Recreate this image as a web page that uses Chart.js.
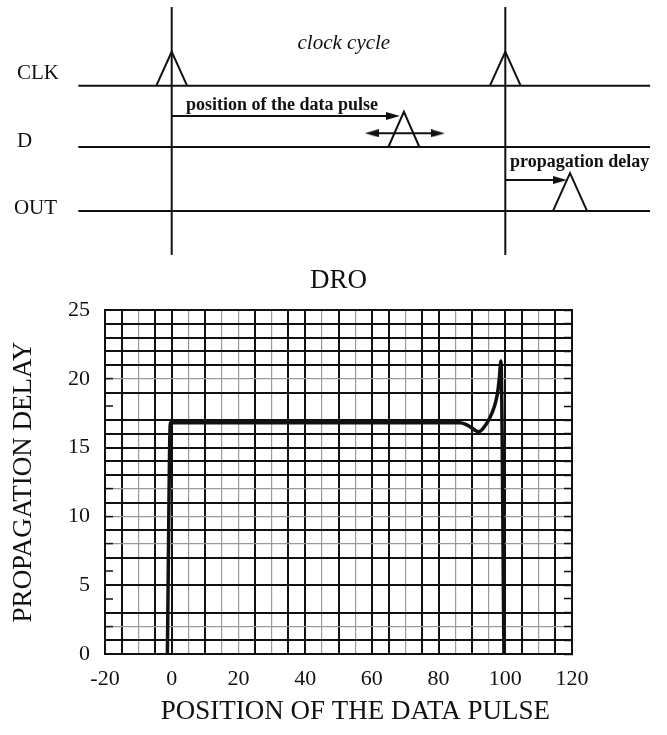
<!DOCTYPE html>
<html>
<head>
<meta charset="utf-8">
<title>DRO - propagation delay vs position of the data pulse</title>
<script src="https://cdn.jsdelivr.net/npm/chart.js@4.4.1/dist/chart.umd.min.js"></script>
<style>
    html, body { margin: 0; padding: 0; background: #fff; }
    #wrap { position: relative; width: 667px; height: 735px; }
    canvas { position: absolute; left: 0; }
    #timingChart { top: 0; }
    #droChart { top: 262px; }
</style>
</head>
<body>
<div id="wrap">
    <canvas id="timingChart" width="667" height="262"></canvas>
    <canvas id="droChart" width="667" height="473"></canvas>
</div>
<script>
// ---- timing diagram (x in % of the clock cycle) ----
const signalNames = ['CLK', 'D', 'OUT'];
const signalLevels = [1.96, 1.0, 0];
const signalSpan = [-28, 143.4];
const clockEdges = [0, 100];
const clockLineSpan = [-0.69, 3.19];
const pulseSignal = [0, 0, 1, 2];
const pulseCenter = [0, 100, 69.6, 119.4];
const pulseHalfWidth = [4.6, 4.6, 4.65, 5.1];
const pulseHeight = [0.53, 0.53, 0.55, 0.59];
const arrowNames = ['position of the data pulse', 'propagation delay'];
const arrowFrom = [0, 100];
const arrowTo = [66.3, 116.4];
const arrowLevel = [1.485, 0.483];
const swingEnds = [60, 79.8];
const swingLevel = 1.214;

// ---- DRO measurement ----
const pulsePosition = [-1.3, -0.4, 86.4, 88, 89.5, 91, 92, 93, 94, 95, 96, 97, 97.7, 98.2, 98.7, 99.6];
const propagationDelay = [0, 16.8, 16.8, 16.7, 16.5, 16.25, 16.15, 16.3, 16.6, 17.0, 17.5, 18.2, 19.0, 20.0, 21.3, 0];
const xTickLabels = [-20, 0, 20, 40, 60, 80, 100, 120];
const yTickLabels = [0, 5, 10, 15, 20, 25];

const INK = '#111';
const FAINT = '#9a9a9a';
const SERIF = "'Liberation Serif', 'Times New Roman', serif";

// graph paper look: some lines fainter, some only ticks
const FAINT_X = [-10, 5, 15, 20, 30, 45, 55, 70, 85, 95, 110];
const FAINT_Y = [20, 12, 10, 8, 2];
const MISSING_Y = [18, 6, 4];

Chart.defaults.font.family = SERIF;
Chart.defaults.color = INK;

function arrowHead() {
    const c = document.createElement('canvas');
    c.width = 14;
    c.height = 8;
    const g = c.getContext('2d');
    g.fillStyle = INK;
    g.beginPath();
    g.moveTo(0, 0);
    g.lineTo(14, 4);
    g.lineTo(0, 8);
    g.closePath();
    g.fill();
    return c;
}
const HEAD = arrowHead();

function stroke(points, extra) {
    return Object.assign({
        data: points, showLine: true, borderColor: INK, borderWidth: 2,
        pointRadius: 0, fill: false, tension: 0, clip: false
    }, extra || {});
}

function buildTimingSets() {
    const sets = [];
    signalLevels.forEach(lv => {
        sets.push(stroke([{ x: signalSpan[0], y: lv }, { x: signalSpan[1], y: lv }]));
    });
    clockEdges.forEach(t => {
        sets.push(stroke([{ x: t, y: clockLineSpan[0] }, { x: t, y: clockLineSpan[1] }]));
    });
    pulseCenter.forEach((c, i) => {
        const base = signalLevels[pulseSignal[i]];
        const w = pulseHalfWidth[i];
        sets.push(stroke([
            { x: c - w, y: base },
            { x: c, y: base + pulseHeight[i] },
            { x: c + w, y: base }
        ]));
    });
    arrowFrom.forEach((a, i) => {
        sets.push(stroke([{ x: a, y: arrowLevel[i] }, { x: arrowTo[i], y: arrowLevel[i] }], {
            pointStyle: HEAD, pointRadius: [0, 7], pointRotation: [0, 0]
        }));
    });
    sets.push(stroke(swingEnds.map(x => ({ x: x, y: swingLevel })), {
        pointStyle: HEAD, pointRadius: [7, 7], pointRotation: [180, 0]
    }));
    return sets;
}

const TIMING_LABELS = [
    { text: signalNames[0], x: -46.4, y: 2.153, font: `21px ${SERIF}`, align: 'left' },
    { text: signalNames[1], x: -46.4, y: 1.086, font: `21px ${SERIF}`, align: 'left' },
    { text: signalNames[2], x: -47.3, y: 0.04, font: `21px ${SERIF}`, align: 'left' },
    { text: 'clock cycle', x: 51.6, y: 2.627, font: `italic 21px ${SERIF}`, align: 'center' },
    { text: arrowNames[0], x: 4.3, y: 1.657, font: `bold 18px ${SERIF}`, align: 'left' },
    { text: arrowNames[1], x: 101.4, y: 0.765, font: `bold 18px ${SERIF}`, align: 'left' }
];

const timingText = {
    id: 'timingText',
    afterDatasetsDraw(chart) {
        const { ctx, scales: { x, y } } = chart;
        ctx.save();
        ctx.fillStyle = INK;
        ctx.textBaseline = 'middle';
        TIMING_LABELS.forEach(l => {
            ctx.font = l.font;
            ctx.textAlign = l.align;
            ctx.fillText(l.text, x.getPixelForValue(l.x), y.getPixelForValue(l.y));
        });
        ctx.restore();
    }
};

new Chart(document.getElementById('timingChart'), {
    type: 'scatter',
    data: { datasets: buildTimingSets() },
    options: {
        responsive: false, animation: false, devicePixelRatio: 1, events: [],
        layout: { padding: 0, autoPadding: false },
        plugins: { legend: { display: false }, tooltip: { enabled: false } },
        scales: {
            x: { type: 'linear', display: false, min: -51.47, max: 148.47 },
            y: { type: 'linear', display: false, min: -0.8, max: 3.3 }
        }
    },
    plugins: [timingText]
});

function xGrid(c) {
    return FAINT_X.includes(c.tick.value) ? FAINT : INK;
}
function xGridWidth(c) {
    return FAINT_X.includes(c.tick.value) ? 1.2 : 2;
}
function yGrid(c) {
    const v = c.tick.value;
    if (MISSING_Y.includes(v)) return 'rgba(0,0,0,0)';
    return FAINT_Y.includes(v) ? FAINT : INK;
}
function yGridWidth(c) {
    return FAINT_Y.includes(c.tick.value) ? 1.2 : 2;
}

new Chart(document.getElementById('droChart'), {
    type: 'scatter',
    data: {
        datasets: [{
            label: 'DRO',
            data: pulsePosition.map((x, i) => ({ x: x, y: propagationDelay[i] })),
            showLine: true,
            borderColor: INK,
            borderWidth: 3.5,
            borderJoinStyle: 'round',
            cubicInterpolationMode: 'monotone',
            pointRadius: 0,
            fill: false
        }]
    },
    options: {
        responsive: false, animation: false, devicePixelRatio: 1, events: [],
        layout: { padding: { left: 0, right: 95, top: 0, bottom: 0 } },
        plugins: {
            legend: { display: false },
            tooltip: { enabled: false },
            title: {
                display: true, text: 'DRO', fullSize: false, color: INK,
                font: { size: 27, weight: 'normal' },
                padding: { top: 3, bottom: 12.6 }
            }
        },
        scales: {
            x: {
                type: 'linear',
                min: xTickLabels[0], max: xTickLabels[xTickLabels.length - 1],
                afterFit: s => { s.height = 81; },
                ticks: {
                    stepSize: 5, padding: 12, maxRotation: 0, autoSkip: false,
                    font: { size: 22 }, color: INK,
                    callback: v => xTickLabels.includes(v) ? String(v) : ''
                },
                grid: { color: xGrid, lineWidth: xGridWidth, drawTicks: false },
                border: { display: true, color: INK, width: 2 },
                title: {
                    display: true, text: '\u2003\u2005POSITION OF THE DATA PULSE', color: INK,
                    font: { size: 27 }, padding: { top: 0, bottom: 7 }
                }
            },
            y: {
                type: 'linear',
                min: yTickLabels[0], max: yTickLabels[yTickLabels.length - 1],
                afterFit: s => { s.width = 105; },
                ticks: {
                    stepSize: 1, padding: 23, autoSkip: false,
                    font: { size: 22 }, color: INK,
                    callback: v => yTickLabels.includes(v) ? String(v) : ''
                },
                grid: {
                    color: yGrid, lineWidth: yGridWidth,
                    drawTicks: true, tickLength: -8, tickColor: INK, tickWidth: 1.5
                },
                border: { display: true, color: INK, width: 2 },
                title: {
                    display: true, text: 'PROPAGATION DELAY', color: INK,
                    font: { size: 27 }, padding: { top: 8, bottom: 0 }
                }
            },
            yr: {
                type: 'linear', position: 'right',
                min: yTickLabels[0], max: yTickLabels[yTickLabels.length - 1],
                afterFit: s => { s.width = 0; },
                ticks: { stepSize: 1, display: false },
                grid: {
                    drawOnChartArea: false, drawTicks: true, tickLength: -8,
                    tickColor: INK, tickWidth: 1.5
                },
                border: { display: true, color: INK, width: 2 }
            }
        }
    }
});
</script>
</body>
</html>
